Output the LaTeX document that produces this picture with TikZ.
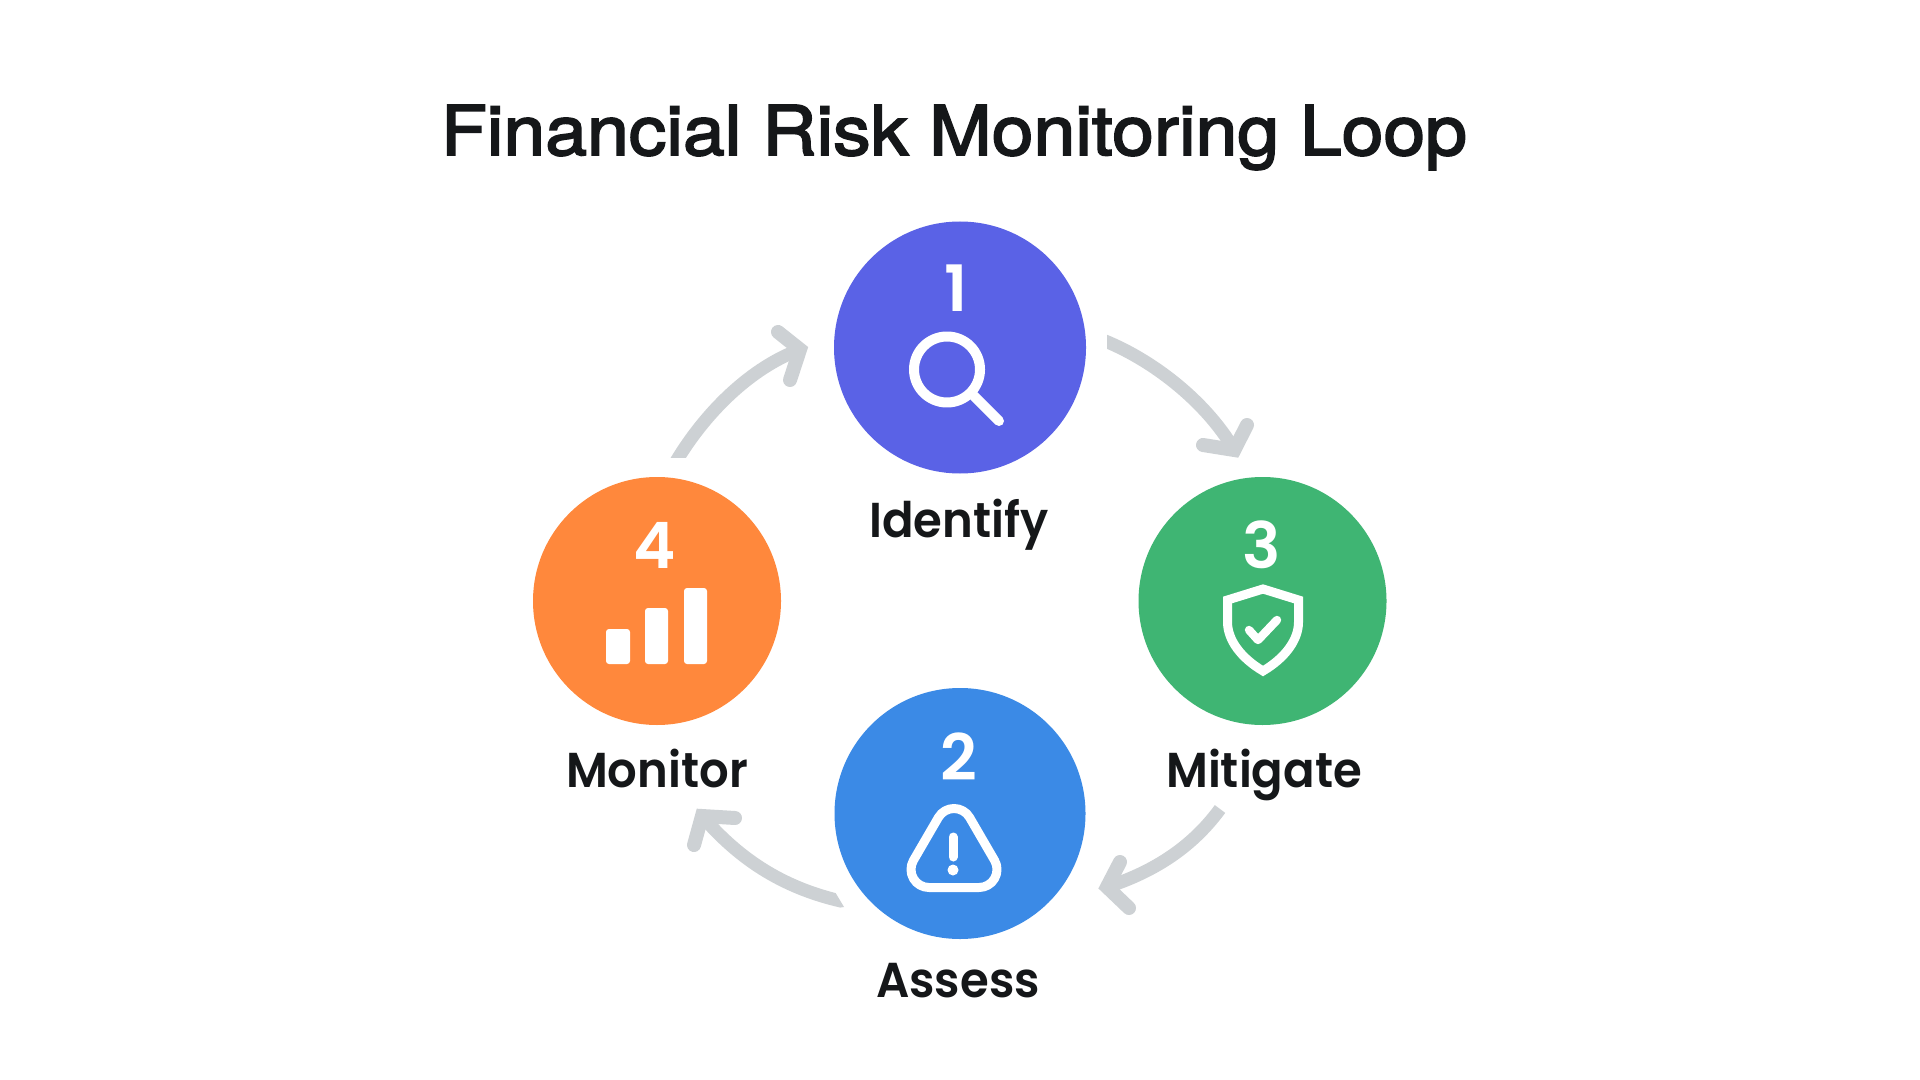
\documentclass[tikz,border=0pt]{standalone}
\usepackage{fontspec}
\setmainfont{Poppins}[UprightFont={* Medium}]
\newfontfamily\titlefont{TeX Gyre Heros}[FakeStretch=1.095,FakeBold=2.6]
\newfontfamily\labelfont{Poppins}[UprightFont={* SemiBold},FakeStretch=.95]
\newfontfamily\digitfont{Poppins}[UprightFont={* SemiBold}]
\definecolor{cviolet}{HTML}{5A62E6}
\definecolor{cgreen}{HTML}{3FB573}
\definecolor{cblue}{HTML}{3B8AE6}
\definecolor{corange}{HTML}{FF883C}
\definecolor{cflow}{HTML}{CDD1D4}
\definecolor{cink}{HTML}{151719}
\tikzset{
  x=0.5pt,y=-0.5pt,
  stagecircle/.style={circle,inner sep=0pt,minimum size=#1*1pt},
  digit/.style={text=white,font=\digitfont\fontsize{32}{32}\selectfont,anchor=base,inner sep=0pt},
  stagelabel/.style={text=cink,font=\labelfont\fontsize{24.5}{26}\selectfont,anchor=base,inner sep=0pt},
  titletext/.style={text=cink,font=\titlefont\fontsize{34.3}{40}\selectfont,anchor=base,inner sep=0pt},
  icon/.style={draw=white,line width=4.6pt,line cap=round,line join=round},
  flow/.style={draw=cflow,line width=6.5pt},
  barb/.style={draw=cflow,line width=7pt,line cap=round,line join=miter},
}
\begin{document}
\begin{tikzpicture}
\useasboundingbox[fill=white] (0,0) rectangle (1920,1080);
\node[titletext] (title) at (954,155) {Financial Risk Monitoring Loop};
% circles
\node[stagecircle=126,fill=cviolet] (n1) at (960,347.5) {};
\node[stagecircle=124,fill=cgreen] (n3) at (1262.5,601) {};
\node[stagecircle=125.5,fill=cblue] (n2) at (960,813.5) {};
\node[stagecircle=124,fill=corange] (n4) at (657,601) {};
% digits
\node[digit] (d1) at (956,312) {1};
\node[digit] (d2) at (959,780) {2};
\node[digit] (d3) at (1262,568) {3};
\node[digit] (d4) at (655,568) {4};
% labels
\node[stagelabel] (l1) at (959,537) {Identify};
\node[stagelabel] (l2) at (958,997) {Assess};
\node[stagelabel] (l3) at (1264,787) {Mitigate};
\node[stagelabel] (l4) at (657,787) {Monitor};
% magnifier
\draw[icon,line width=5pt] (947,369.5) circle (33);
\draw[icon,line width=5pt] (974,396) -- (999,421);
% shield
\draw[icon,line width=4.5pt,line join=miter] (1263,589) -- (1298.5,600) -- (1298.5,622) .. controls (1298.5,640) and (1285,658) .. (1263,671)
   .. controls (1241,658) and (1227.5,640) .. (1227.5,622) -- (1227.5,600) -- cycle;
\draw[icon,line width=4.2pt] (1249,630) -- (1258,640) -- (1277,620);
% warning
\draw[icon,line width=4.5pt]
  (969.6,817.45) .. controls (966.4,811.9) and (960.4,808.5) .. (954,808.5)
  .. controls (947.6,808.5) and (941.6,811.9) .. (938.4,817.45)
  -- (913.4,860.45)
  .. controls (910.2,866) and (910.2,872.9) .. (913.4,878.5)
  .. controls (916.6,884.1) and (922.6,887.5) .. (929,887.5)
  -- (979,887.5)
  .. controls (985.4,887.5) and (991.4,884.1) .. (994.6,878.5)
  .. controls (997.8,872.9) and (997.8,866) .. (994.6,860.45)
  -- cycle;
\draw[icon,line width=4.5pt] (953,837) -- (953,857);
\fill[white] (953,870) circle (5.5);
% bars
\fill[white,rounded corners=1.5pt] (606,629) rectangle (630,664);
\fill[white,rounded corners=1.5pt] (645,608) rectangle (668,664);
\fill[white,rounded corners=1.5pt] (684,588) rectangle (707,664);
% connectors
\coordinate (a41s) at (674,465);
\coordinate (a41e) at (800,349.5);
\coordinate (a41b) at (778,332);
\coordinate (a41c) at (790,380);
\coordinate (a13s) at (1100,339);
\coordinate (a13e) at (1234.3,450);
\coordinate (a13b) at (1203,445);
\coordinate (a13c) at (1247,425);
\coordinate (a32s) at (1220,809);
\coordinate (a32e) at (1107,887);
\coordinate (a32b) at (1120,862);
\coordinate (a32c) at (1129,908);
\coordinate (a24s) at (850,903);
\coordinate (a24e) at (702,816);
\coordinate (a24b) at (735,818);
\coordinate (a24c) at (694,845);
\begin{scope}
\clip (600,300) rectangle (830,457);
\draw[flow] (a41s) .. controls (700,420) and (745,370) .. (a41e);
\end{scope}
\draw[barb] (a41b) -- (a41e) -- (a41c);
\begin{scope}
\clip (1107,300) rectangle (1270,480);
\draw[flow] (a13s) .. controls (1150,358) and (1205,400) .. (a13e);
\end{scope}
\draw[barb] (a13b) -- (a13e) -- (a13c);
\draw[flow] (a32s) .. controls (1190,850) and (1150,873) .. (a32e);
\draw[barb] (a32b) -- (a32e) -- (a32c);
\begin{scope}
\clip (680,790) -- (835,892) -- (844,907) -- (680,930) -- cycle;
\draw[flow] (a24s) .. controls (785,890) and (740,860) .. (a24e);
\end{scope}
\draw[barb] (a24b) -- (a24e) -- (a24c);
\end{tikzpicture}
\end{document}
